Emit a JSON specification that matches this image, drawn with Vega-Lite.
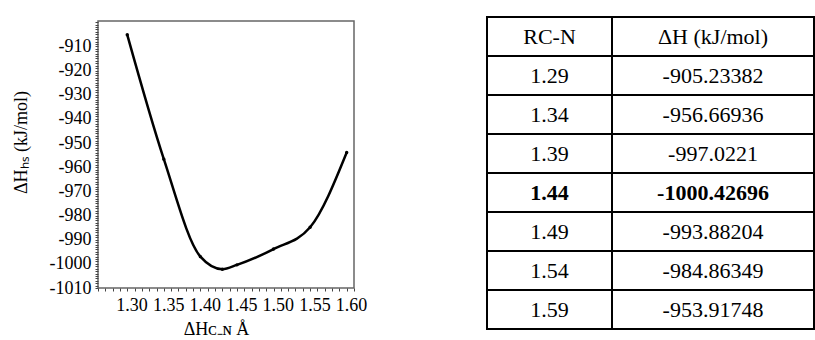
{
  "$schema": "https://vega.github.io/schema/vega-lite/v6.json",
  "padding": {"left": 11, "top": 12, "right": 0, "bottom": 0},
  "background": "white",
  "config": {
    "font": "Liberation Serif",
    "axis": {"labelFont": "Liberation Serif", "titleFont": "Liberation Serif"},
    "text": {"font": "Liberation Serif"},
    "view": {"stroke": null}
  },
  "datasets": {
    "curve": [
      {"r": 1.29, "h": -905.23382},
      {"r": 1.34, "h": -956.66936},
      {"r": 1.39, "h": -997.0221},
      {"r": 1.42, "h": -1002.2},
      {"r": 1.44, "h": -1000.42696},
      {"r": 1.49, "h": -993.88204},
      {"r": 1.54, "h": -984.86349},
      {"r": 1.59, "h": -953.91748}
    ],
    "table": [
      {"i": 0, "rc": "RC-N", "dh": "ΔH (kJ/mol)"},
      {"i": 1, "rc": "1.29", "dh": "-905.23382"},
      {"i": 2, "rc": "1.34", "dh": "-956.66936"},
      {"i": 3, "rc": "1.39", "dh": "-997.0221"},
      {"i": 4, "rc": "1.44", "dh": "-1000.42696"},
      {"i": 5, "rc": "1.49", "dh": "-993.88204"},
      {"i": 6, "rc": "1.54", "dh": "-984.86349"},
      {"i": 7, "rc": "1.59", "dh": "-953.91748"}
    ]
  },
  "spacing": 118,
  "hconcat": [
    {
      "width": 256,
      "height": 267,
      "data": {"name": "curve"},
      "view": {"stroke": "#666", "strokeWidth": 1.5},
      "mark": {"type": "line", "interpolate": "monotone", "color": "black", "strokeWidth": 2.5,
               "point": {"filled": true, "color": "black", "size": 12}},
      "encoding": {
        "x": {"field": "r", "type": "quantitative",
              "scale": {"domain": [1.25, 1.60], "nice": false, "zero": false},
              "axis": {"title": "ΔHᴄ₋ɴ Å", "tickCount": 35, "labelExpr": "round(datum.value*100) % 5 === 0 && datum.value > 1.29 ? format(datum.value, '.2f') : ''",
                       "labelOverlap": false, "labelFlush": false, "labelOffset": -3, "domain": false, "grid": false,
                       "tickSize": 3, "tickColor": "#444", "labelFontSize": 18, "labelColor": "black", "labelPadding": 5,
                       "labelFont": "Liberation Serif", "titleFont": "Liberation Serif", "titleX": 118,
                       "titleFontSize": 18, "titleFontWeight": "normal", "titleColor": "black", "titlePadding": 6}},
        "y": {"field": "h", "type": "quantitative",
              "scale": {"domain": [-1010, -899.5], "nice": false, "zero": false},
              "axis": {"title": "ΔHₕₛ (kJ/mol)",
                       "values": [-1010,-1009,-1008,-1007,-1006,-1005,-1004,-1003,-1002,-1001,-1000,-999,-998,-997,-996,-995,-994,-993,-992,-991,-990,-989,-988,-987,-986,-985,-984,-983,-982,-981,-980,-979,-978,-977,-976,-975,-974,-973,-972,-971,-970,-969,-968,-967,-966,-965,-964,-963,-962,-961,-960,-959,-958,-957,-956,-955,-954,-953,-952,-951,-950,-949,-948,-947,-946,-945,-944,-943,-942,-941,-940,-939,-938,-937,-936,-935,-934,-933,-932,-931,-930,-929,-928,-927,-926,-925,-924,-923,-922,-921,-920,-919,-918,-917,-916,-915,-914,-913,-912,-911,-910,-909,-908,-907,-906,-905,-904,-903,-902,-901,-900],
                       "labelExpr": "datum.value % 10 === 0 && datum.value <= -910 ? '' + datum.value : ''",
                       "labelOverlap": false, "labelFlush": false, "domain": false, "grid": false,
                       "tickSize": 3, "tickColor": "#444", "labelFontSize": 18, "labelColor": "black", "labelPadding": 4,
                       "labelFont": "Liberation Serif", "titleFont": "Liberation Serif", "titleY": 121,
                       "titleFontSize": 18, "titleFontWeight": "normal", "titleColor": "black", "titlePadding": 19}}
      }
    },
    {
      "bounds": "flush",
      "spacing": 0,
      "hconcat": [
        {
          "width": 125,
          "height": 312,
          "data": {"name": "table"},
          "encoding": {"y": {"field": "i", "type": "ordinal", "axis": null, "scale": {"range": [-4, 308], "paddingInner": 0, "paddingOuter": 0}}},
          "layer": [
            {"mark": {"type": "rect", "fill": "white", "stroke": "black", "strokeWidth": 2}},
            {"transform": [{"filter": "datum.rc !== '1.44'"}],
             "mark": {"type": "text", "fontSize": 22, "font": "Liberation Serif", "color": "black"},
             "encoding": {"text": {"field": "rc"}}},
            {"transform": [{"filter": "datum.rc === '1.44'"}],
             "mark": {"type": "text", "fontSize": 22, "font": "Liberation Serif", "fontWeight": "bold", "color": "black"},
             "encoding": {"text": {"field": "rc"}}}
          ]
        },
        {
          "width": 202,
          "height": 312,
          "data": {"name": "table"},
          "encoding": {"y": {"field": "i", "type": "ordinal", "axis": null, "scale": {"range": [-4, 308], "paddingInner": 0, "paddingOuter": 0}}},
          "layer": [
            {"mark": {"type": "rect", "fill": "white", "stroke": "black", "strokeWidth": 2}},
            {"transform": [{"filter": "datum.rc !== '1.44'"}],
             "mark": {"type": "text", "fontSize": 22, "font": "Liberation Serif", "color": "black"},
             "encoding": {"text": {"field": "dh"}}},
            {"transform": [{"filter": "datum.rc === '1.44'"}],
             "mark": {"type": "text", "fontSize": 22, "font": "Liberation Serif", "fontWeight": "bold", "color": "black"},
             "encoding": {"text": {"field": "dh"}}}
          ]
        }
      ]
    }
  ]
}
